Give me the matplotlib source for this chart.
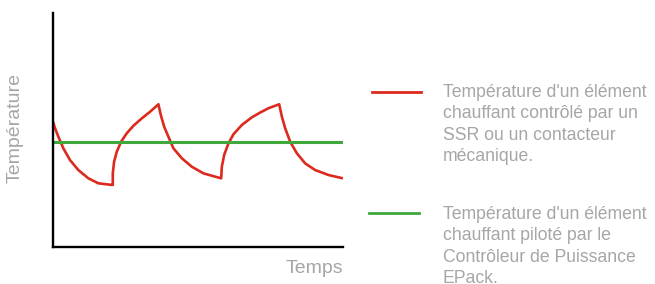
import matplotlib.pyplot as plt
from matplotlib.lines import Line2D

plt.rcParams['font.family'] = ['Liberation Sans', 'DejaVu Sans']

# red curve (time 0-100, temperature scale)
ssr_t = [0, 0.69, 1.83, 3.55, 5.86, 8.72, 12.17, 15.62, 20.24,
         20.59, 20.59, 21.03, 21.97, 23.45, 25.41, 27.69, 30.59, 33.45, 36.31,
         37.14, 38.28, 39.76, 41.48, 44.38, 47.83, 51.83, 57.93,
         58.17, 58.97, 60.45, 62.17, 65.07, 68.52, 71.38, 74.24, 77.93,
         78.86, 80.0, 81.72, 84.03, 86.9, 90.34, 94.93, 99.9]
ssr_temp = [60.5, 57.3, 53.2, 47.6, 41.9, 37.1, 33.1, 30.7, 29.9,
            29.9, 35.5, 41.1, 46.0, 50.8, 54.9, 58.5, 62.1, 65.3, 68.9,
            63.7, 58.1, 53.2, 47.6, 42.8, 38.7, 35.5, 33.1,
            38.7, 44.4, 50.0, 54.4, 58.9, 62.6, 64.9, 67.0, 68.9,
            62.9, 57.3, 50.8, 45.2, 40.3, 37.1, 34.7, 33.1]

# green line
epack_t = [0, 100]
epack_temp = [50.5, 50.5]

labels = ["Température d'un élément\nchauffant contrôlé par un\nSSR ou un contacteur\nmécanique.",
          "Température d'un élément\nchauffant piloté par le\nContrôleur de Puissance\nEPack."]

red = '#dc2a1e'
green = '#40a83a'
grey = '#a6a6a6'

fig = plt.figure(figsize=(6.55, 2.84), dpi=100)
ax = fig.add_axes([0.081, 0.131, 0.443, 0.823])

ax.plot(ssr_t, ssr_temp, color=red, lw=1.9, solid_joinstyle='round', solid_capstyle='butt')
ax.plot(epack_t, epack_temp, color=green, lw=2.2, solid_capstyle='butt')

ax.set_xlim(0, 100)
ax.set_ylim(0, 113)
ax.set_xticks([])
ax.set_yticks([])
for s in ['top', 'right']:
    ax.spines[s].set_visible(False)
for s in ['left', 'bottom']:
    ax.spines[s].set_linewidth(1.7)
    ax.spines[s].set_color('black')

fig.text(0.524, 0.055, "Temps", ha='right', va='center', fontsize=14, color=grey)
fig.text(0.023, 0.55, "Température", ha='center', va='center', rotation=90,
         fontsize=14, color=grey)

# legend, drawn by hand
fig.add_artist(Line2D([0.568, 0.643], [1 - 91.5 / 284] * 2, color=red, lw=2.0,
                      transform=fig.transFigure))
fig.add_artist(Line2D([0.564, 0.640], [1 - 213.3 / 284] * 2, color=green, lw=2.0,
                      transform=fig.transFigure))
fig.text(0.676, 1 - 84 / 284, labels[0], ha='left', va='top', fontsize=12.7,
         color=grey, linespacing=1.34)
fig.text(0.676, 1 - 206 / 284, labels[1], ha='left', va='top', fontsize=12.7,
         color=grey, linespacing=1.34)

fig.savefig('out.png', dpi=100)
